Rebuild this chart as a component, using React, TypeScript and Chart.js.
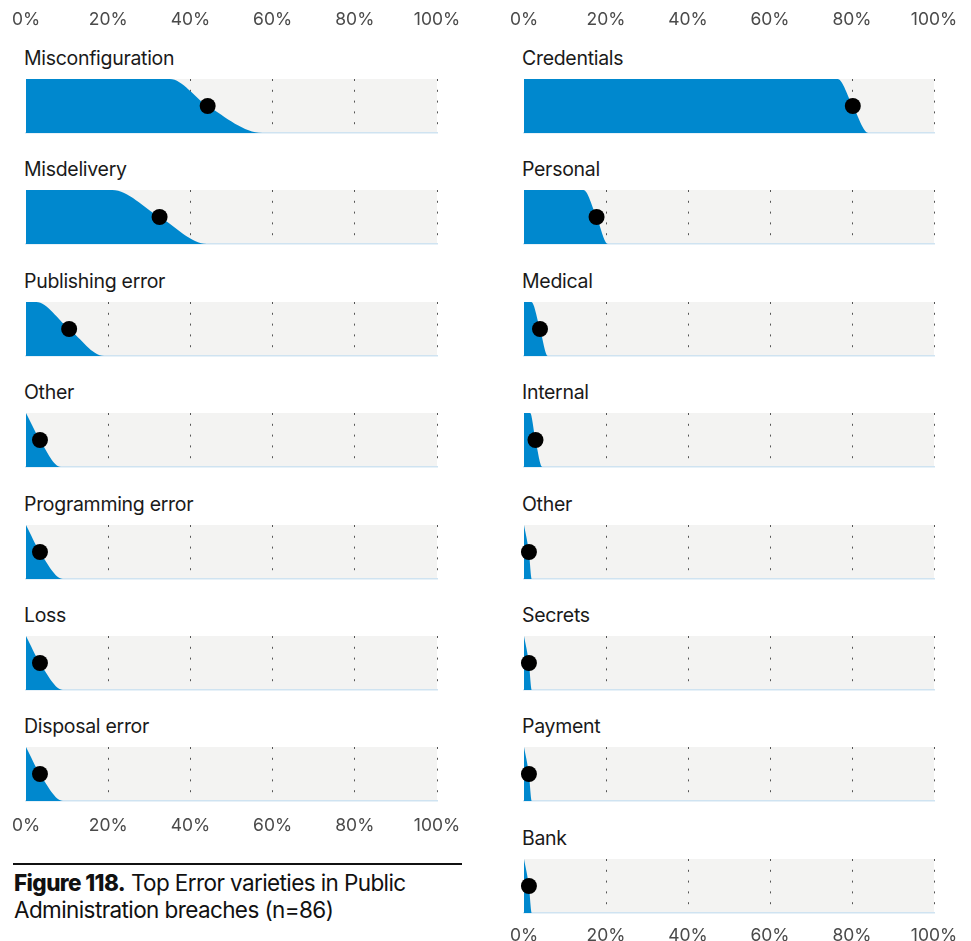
import React, { useEffect, useRef } from 'react';
import { Chart, registerables } from 'chart.js';

Chart.register(...registerables);

// ---------- data ----------
const tickValues = [0, 20, 40, 60, 80, 100];
const tickLabels = ['0%', '20%', '40%', '60%', '80%', '100%'];

const leftLabels = ['Misconfiguration', 'Misdelivery', 'Publishing error', 'Other', 'Programming error', 'Loss', 'Disposal error'];
const leftEstimate = [44.2, 32.5, 10.5, 3.4, 3.4, 3.4, 3.4];
const leftDropStart = [35, 21, 2.5, 0, 0, 0, 0];
const leftDropEnd = [57.5, 44, 19, 8.5, 9, 9, 9];

const rightLabels = ['Credentials', 'Personal', 'Medical', 'Internal', 'Other', 'Secrets', 'Payment', 'Bank'];
const rightEstimate = [80.2, 17.7, 3.9, 2.8, 1.2, 1.2, 1.2, 1.2];
const rightDropStart = [76.5, 14.5, 1.8, 1.5, 0, 0, 0, 0];
const rightDropEnd = [84, 20.5, 5.8, 4.5, 1.9, 1.9, 1.9, 1.9];

const captionBold = 'Figure 118.';
const captionText = ' Top Error varieties in Public Administration breaches (n=86)';

// ---------- style ----------
const FONT = 'Inter, "Noto Sans", sans-serif';
const BLUE = '#0088ce';
const PANEL_BG = '#f3f3f2';
const PADX = 14;
const PADY = 2;
const PANEL_H = 54;
const PANEL_TOP0 = 79;
const PANEL_STEP = 111.4;
const LEFT_X = 26;
const LEFT_W = 411;
const RIGHT_X = 524;
const RIGHT_W = 410;

const bgPlugin = {
  id: 'panelBg',
  beforeDraw(chart: any) {
    const { ctx, chartArea: a } = chart;
    ctx.save();
    ctx.fillStyle = PANEL_BG;
    ctx.fillRect(a.left, a.top, a.right - a.left, a.bottom - a.top);
    ctx.restore();
  },
};

function Panel({ left, top, width, est, start, end }: any) {
  const ref = useRef<HTMLCanvasElement>(null);
  useEffect(() => {
    const pts: any[] = [{ x: 0, y: 1 }];
    if (start > 0) pts.push({ x: start, y: 1 });
    pts.push({ x: est, y: 0.5 }, { x: end, y: 0 }, { x: 100, y: 0 });
    const chart = new Chart(ref.current as HTMLCanvasElement, {
      type: 'line',
      data: {
        datasets: [
          {
            type: 'scatter',
            data: [{ x: est, y: 0.5 }],
            pointRadius: 8,
            pointBackgroundColor: '#000',
            pointBorderWidth: 0,
            pointBorderColor: '#000',
            clip: false,
            showLine: false,
          } as any,
          {
            type: 'line',
            data: pts,
            fill: 'origin',
            backgroundColor: BLUE,
            borderWidth: 0,
            borderColor: BLUE,
            pointRadius: 0,
            cubicInterpolationMode: 'monotone',
          } as any,
        ],
      },
      options: {
        animation: false,
        responsive: false,
        maintainAspectRatio: false,
        events: [],
        layout: { autoPadding: false, padding: { left: PADX, right: PADX, top: PADY, bottom: PADY } },
        plugins: { legend: { display: false }, tooltip: { enabled: false } },
        scales: {
          x: {
            type: 'linear',
            min: 0,
            max: 100,
            afterBuildTicks: (s: any) => { s.ticks = tickValues.map((v) => ({ value: v })); },
            ticks: { display: false },
            grid: {
              drawTicks: false,
              lineWidth: 1,
              color: (c: any) => (c.tick && c.tick.value === 0 ? 'rgba(0,0,0,0)' : '#555'),
            },
            border: { display: true, color: '#cfe3f1', width: 1.5, dash: [2, 8.8] },
            afterFit: (s: any) => { s.height = 0; },
          },
          y: { display: false, min: 0, max: 1 },
        },
      } as any,
      plugins: [bgPlugin],
    });
    return () => chart.destroy();
  }, [left, top, width, est, start, end]);
  return (
    <canvas
      ref={ref}
      width={width + 2 * PADX}
      height={PANEL_H + 2 * PADY}
      style={{ position: 'absolute', left: left - PADX, top: top - PADY, width: width + 2 * PADX, height: PANEL_H + 2 * PADY }}
    />
  );
}

function AxisChart({ left, width, centerY }: any) {
  const ref = useRef<HTMLCanvasElement>(null);
  const H = 60;
  const P = 32;
  useEffect(() => {
    const chart = new Chart(ref.current as HTMLCanvasElement, {
      type: 'line',
      data: { datasets: [] },
      options: {
        animation: false,
        responsive: false,
        maintainAspectRatio: false,
        events: [],
        layout: { autoPadding: false, padding: { left: P, right: P, top: 0, bottom: 0 } },
        plugins: { legend: { display: false }, tooltip: { enabled: false } },
        scales: {
          x: {
            type: 'linear',
            min: 0,
            max: 100,
            afterBuildTicks: (s: any) => { s.ticks = tickValues.map((v) => ({ value: v })); },
            ticks: {
              callback: (_v: any, i: number) => tickLabels[i],
              font: { family: FONT, size: 17.5 },
              color: '#4a4a4a',
              padding: 0,
              maxRotation: 0,
              autoSkip: false,
            },
            grid: { display: false },
            border: { display: false },
          },
          y: { display: false, min: 0, max: 1 },
        },
      } as any,
    });
    return () => chart.destroy();
  }, [left, width, centerY]);
  return (
    <canvas
      ref={ref}
      width={width + 2 * P}
      height={H}
      style={{ position: 'absolute', left: left - P, top: centerY + 1 - (H - 10.5), width: width + 2 * P, height: H }}
    />
  );
}

function Title({ text, left, top }: any) {
  return (
    <div
      style={{
        position: 'absolute',
        left: left - 2,
        top: top - 31,
        fontFamily: FONT,
        fontSize: 19.5,
        lineHeight: '20px',
        color: '#1a1a1a',
        letterSpacing: '-0.3px',
        whiteSpace: 'nowrap',
      }}
    >
      {text}
    </div>
  );
}

export default function App() {
  const panelTop = (i: number) => Math.round(PANEL_TOP0 + PANEL_STEP * i);
  return (
    <div style={{ position: 'absolute', left: 0, top: 0, width: 971, height: 941, background: '#fff', overflow: 'hidden' }}>
      <AxisChart left={LEFT_X} width={LEFT_W} centerY={18} />
      <AxisChart left={RIGHT_X} width={RIGHT_W} centerY={18} />
      {leftLabels.map((lab, i) => (
        <React.Fragment key={'l' + i}>
          <Title text={lab} left={LEFT_X} top={panelTop(i)} />
          <Panel left={LEFT_X} top={panelTop(i)} width={LEFT_W} est={leftEstimate[i]} start={leftDropStart[i]} end={leftDropEnd[i]} />
        </React.Fragment>
      ))}
      {rightLabels.map((lab, i) => (
        <React.Fragment key={'r' + i}>
          <Title text={lab} left={RIGHT_X} top={panelTop(i)} />
          <Panel left={RIGHT_X} top={panelTop(i)} width={RIGHT_W} est={rightEstimate[i]} start={rightDropStart[i]} end={rightDropEnd[i]} />
        </React.Fragment>
      ))}
      <AxisChart left={LEFT_X} width={LEFT_W} centerY={824} />
      <AxisChart left={RIGHT_X} width={RIGHT_W} centerY={934} />
      <div style={{ position: 'absolute', left: 13, top: 863, width: 449, height: 2, background: '#111' }} />
      <div
        style={{
          position: 'absolute',
          left: 14,
          top: 869,
          width: 450,
          fontFamily: FONT,
          fontSize: 22.5,
          lineHeight: '27px',
          color: '#111',
          letterSpacing: '-0.6px',
        }}
      >
        <b style={{ fontWeight: 800 }}>{captionBold}</b>
        {captionText}
      </div>
    </div>
  );
}
